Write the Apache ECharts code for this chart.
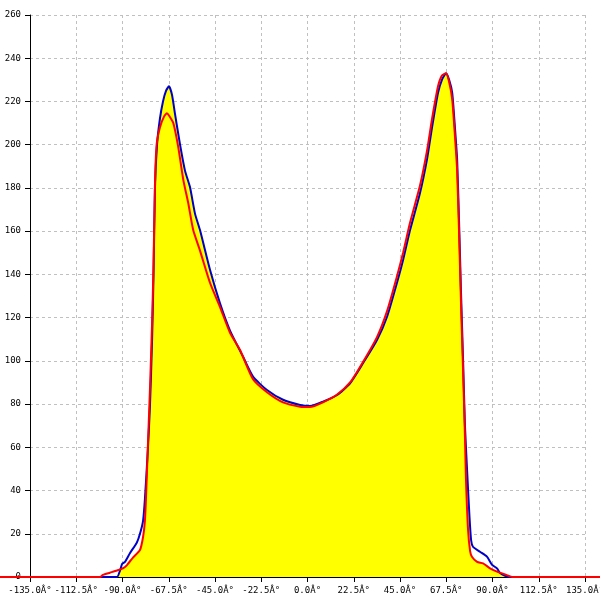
<!DOCTYPE html>
<html>
<head>
<meta charset="utf-8">
<script src="https://cdn.jsdelivr.net/npm/echarts@6/dist/echarts.min.js"></script>
<style>html,body{margin:0;padding:0;background:#fff}#c{width:600px;height:600px}</style>
</head>
<body>
<div id="c"></div>
<script>
// x positions (degrees) shared by the blue curve and the yellow fill
const blueX = [-135, -100, -92.7, -91.2, -90.2, -88.8, -86.4, -83.0, -81.5, -80.0, -79.1, -77.6, -76.6, -75.6, -74.9, -74.2, -73.2, -71.8, -70.3, -68.8, -67.4, -65.9, -64.5, -62.0, -59.6, -57.2, -54.7, -52.3, -47.4, -42.6, -37.7, -31.4, -26.5, -19.7, -11.9, -3.6, 1.2, 7.5, 14.4, 20.7, 27.0, 33.8, 38.7, 43.5, 46.5, 49.9, 54.7, 58.1, 60.6, 63.5, 65.4, 67.4, 68.9, 70.4, 71.8, 72.8, 73.8, 74.7, 75.7, 76.6, 77.6, 78.8, 79.6, 80.5, 83.9, 87.3, 89.8, 92.2, 93.7, 96.1, 98.5, 135];
const blueY = [0, 0, 0, 3, 6, 7, 11, 16, 20, 26, 36, 60, 80, 110, 140, 180, 200, 212, 220, 225, 227, 223, 214.5, 200, 188, 180.5, 168, 160.5, 142, 126.7, 114, 102, 92.7, 86.5, 82, 79.6, 79.1, 81.1, 84.2, 89.6, 98.9, 109.6, 120.4, 136, 146.7, 160.5, 177.5, 193, 208, 224, 230, 233, 230, 224, 207, 193, 162, 131, 100, 70, 50, 28, 17, 14, 11.7, 9.4, 5.6, 4, 1.8, 0.5, 0, 0];
const fillY = [0, 0, 0, 3, 4, 5, 8, 11, 12.5, 18.5, 26, 60, 80, 110, 140, 180, 200, 212, 220, 225, 227, 223, 214.5, 200, 188, 180.5, 168, 160.5, 142, 126.7, 114, 102, 92.7, 86.5, 82, 79.6, 79.1, 81.1, 84.2, 89.6, 98.9, 109.6, 120.4, 136, 146.7, 160.5, 177.5, 193, 208, 224, 230, 233, 230, 224, 207, 193, 162, 131, 100, 70, 50, 22, 11, 9, 6.8, 5, 3.5, 2.5, 1.8, 0.5, 0, 0];

const redX = [-150, -100.9, -99.5, -96.1, -92.7, -89.8, -87.8, -84.9, -81.5, -80.0, -79.1, -78.6, -77.6, -76.6, -75.6, -74.9, -74.2, -73.4, -71.8, -69.8, -68.4, -67.4, -65.3, -62.9, -60.4, -58.0, -55.6, -52.3, -47.4, -42.6, -37.7, -32.8, -26.5, -19.7, -11.9, -3.6, 1.2, 7.5, 14.4, 20.7, 27.0, 33.8, 38.7, 43.5, 46.5, 49.9, 54.7, 58.1, 60.6, 63.5, 65.4, 67.4, 68.9, 70.4, 71.8, 72.8, 73.8, 74.7, 75.7, 76.6, 77.1, 78.1, 79.1, 80.0, 82.5, 85.4, 88.8, 92.2, 96.1, 100.0, 150];
const redY = [0, 0, 1, 2, 3, 4, 5.5, 9, 12.5, 18.5, 26, 36, 62, 88, 118, 145, 182, 200, 208, 213, 214.5, 213.5, 210, 199, 183.6, 172.9, 160.5, 151, 136, 125, 113, 105, 91.5, 85.5, 80.8, 78.8, 78.6, 80.8, 84.4, 90, 99.5, 111, 123, 139, 150, 164, 181, 197, 212, 227, 232, 233, 229, 221, 203, 188, 157, 126, 95, 65, 45, 22, 12, 9.4, 7, 6.3, 4, 2.5, 1.2, 0, 0];

const xTickMin = -135, xTickMax = 135, xTickStep = 22.5;
const yTickMin = 0, yTickMax = 260, yTickStep = 20;

const zip = (xs, ys) => xs.map((x, i) => [x, ys[i]]);
const font = 'DejaVu Sans Mono';

// layout: main plot area
const W = 600, gL = 30, gR = 15, gT = 15, gB = 23;
// a second, invisible axis pair spanning the whole width with the same scale,
// so the red trace can run past the plot edges as in the reference
const degPerPx = (xTickMax - xTickMin) / (W - gL - gR);
const wideMin = xTickMin - gL * degPerPx;
const wideMax = xTickMax + gR * degPerPx;

const chart = echarts.init(document.getElementById('c'), null, {renderer: 'canvas'});
chart.setOption({
  animation: false,
  backgroundColor: '#ffffff',
  grid: [
    {left: gL, right: gR, top: gT, bottom: gB, containLabel: false, outerBoundsMode: 'none'},
    {left: 0, right: 0, top: gT, bottom: gB, containLabel: false, outerBoundsMode: 'none'}
  ],
  xAxis: [{
    type: 'value', gridIndex: 0, min: xTickMin, max: xTickMax, interval: xTickStep,
    axisLine: {show: true, onZero: false, lineStyle: {color: '#000', width: 1}},
    axisTick: {show: true, length: 5, lineStyle: {color: '#000'}},
    axisLabel: {
      color: '#000', fontFamily: font, fontSize: 9, margin: 9,
      formatter: v => v.toFixed(1) + 'Â°'
    },
    splitLine: {show: true, lineStyle: {color: '#c0c0c0', type: [3, 3], width: 1}}
  }, {
    type: 'value', gridIndex: 1, min: wideMin, max: wideMax, show: false,
    splitLine: {show: false}
  }],
  yAxis: [{
    type: 'value', gridIndex: 0, min: yTickMin, max: yTickMax, interval: yTickStep,
    axisLine: {show: true, onZero: false, lineStyle: {color: '#000', width: 1}},
    axisTick: {show: true, length: 5, lineStyle: {color: '#000'}},
    axisLabel: {color: '#000', fontFamily: font, fontSize: 9, margin: 9},
    splitLine: {show: true, lineStyle: {color: '#c0c0c0', type: [3, 3], width: 1}}
  }, {
    type: 'value', gridIndex: 1, min: yTickMin, max: yTickMax, show: false,
    splitLine: {show: false}
  }],
  series: [
    {
      type: 'line', data: zip(blueX, fillY), symbol: 'none', smooth: 0.2,
      lineStyle: {width: 0, opacity: 0},
      areaStyle: {color: '#ffff00', opacity: 1},
      z: 1, silent: true
    },
    {
      type: 'line', data: zip(blueX, blueY), symbol: 'none', smooth: 0.2,
      lineStyle: {color: '#0000c8', width: 2},
      z: 2
    },
    {
      type: 'line', xAxisIndex: 1, yAxisIndex: 1,
      data: zip(redX, redY), symbol: 'none', smooth: 0.2,
      lineStyle: {color: '#ff0000', width: 2},
      z: 3, zlevel: 1
    }
  ]
});
</script>
</body>
</html>
